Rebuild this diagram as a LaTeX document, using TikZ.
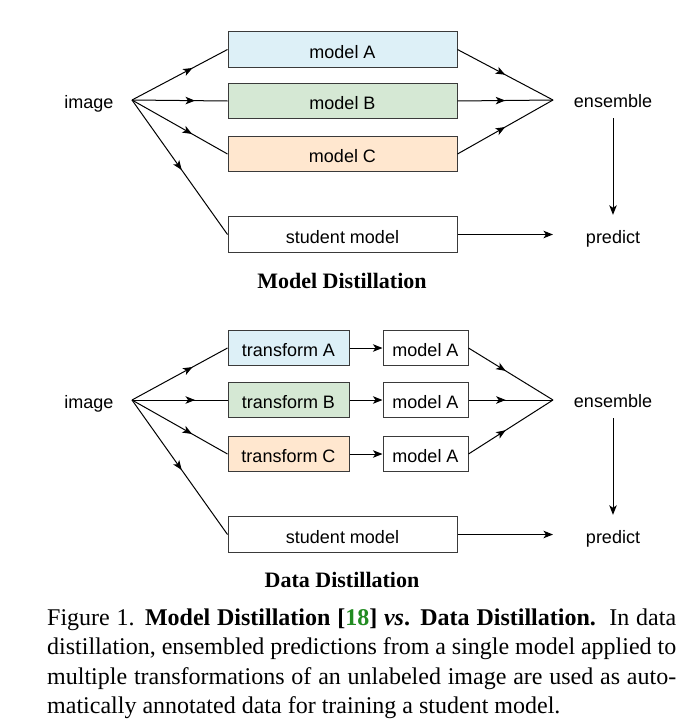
\documentclass[tikz,border=0pt]{standalone}
\usepackage{fontspec}
\setmainfont{Liberation Serif}
\newfontfamily\diagfont{Liberation Sans}
\usetikzlibrary{arrows.meta,decorations.markings}
\definecolor{boxA}{HTML}{DDF0F7}
\definecolor{boxB}{HTML}{D5E8D4}
\definecolor{boxC}{HTML}{FFE7CF}
\definecolor{boxline}{HTML}{3A3A3A}
\definecolor{citegreen}{HTML}{228B22}
\begin{document}
\begin{tikzpicture}[x=1pt,y=-1pt,
  lbl/.style={font=\diagfont\fontsize{18}{20}\selectfont, inner sep=0pt, text height=13pt, text depth=4pt},
  box/.style={draw=boxline, line width=1pt, minimum height=35.5pt, inner sep=0pt,
              font=\diagfont\fontsize{18}{20}\selectfont, text height=17.5pt, text depth=0.5pt},
  conn/.style={line width=1pt},
  tipend/.style={-{Stealth[length=9.5pt,width=7.5pt,inset=2.5pt]}},
  mid/.style={postaction={decorate}, decoration={markings,
     mark=at position #1 with {\arrow{Stealth[length=9.5pt,width=7.5pt,inset=2.5pt]}}}},
  ttl/.style={font=\bfseries\fontsize{22}{26}\selectfont, inner sep=0pt}]
\useasboundingbox (0,0) rectangle (696,728);

% ---------- Model Distillation ----------
\node[lbl] (img1) at (89,103.5) {image};
\coordinate (src1) at (132,100);
\node[box, fill=boxA, minimum width=229pt] (mA) at (342.5,49.5) {model A};
\node[box, fill=boxB, minimum width=229pt] (mB) at (342.5,101) {model B};
\node[box, fill=boxC, minimum width=229pt] (mC) at (342.5,154) {model C};
\node[box, fill=white, minimum width=229pt] (stu1) at (342.5,234.5) {student model};
\coordinate (ens1pt) at (553,100);
\node[lbl] (ens1) at (613,103) {ensemble};
\node[lbl] (pred1) at (613,239) {predict};
\coordinate (pred1pt) at (553,234.5);

\draw[conn, mid=0.635] (src1) -- (mA.west);
\draw[conn, mid=0.66] (src1) -- (mB.west);
\draw[conn, mid=0.63] (src1) -- (mC.west);
\draw[conn, mid=0.52] (src1) -- (stu1.west);
\draw[conn, mid=0.5] (mA.east) -- (ens1pt);
\draw[conn, mid=0.5] (mB.east) -- (ens1pt);
\draw[conn, mid=0.5] (mC.east) -- (ens1pt);
\draw[conn, tipend, shorten <=6.5pt, shorten >=15.5pt] (ens1) -- (pred1);
\draw[conn, tipend] (stu1.east) -- (pred1pt);
\node[ttl] (t1) at (342,281) {Model Distillation};

% ---------- Data Distillation ----------
\node[lbl] (img2) at (89,403.5) {image};
\coordinate (src2) at (132,400);
\node[box, fill=boxA, minimum width=121pt] (tA) at (288.5,348) {transform A};
\node[box, fill=boxB, minimum width=121pt] (tB) at (288.5,400) {transform B};
\node[box, fill=boxC, minimum width=121pt] (tC) at (288.5,454) {transform C};
\node[box, fill=white, minimum width=85pt] (mA2) at (425.5,348) {model A};
\node[box, fill=white, minimum width=85pt] (mB2) at (425.5,400) {model A};
\node[box, fill=white, minimum width=85pt] (mC2) at (425.5,454) {model A};
\node[box, fill=white, minimum width=229pt] (stu2) at (342.5,534.5) {student model};
\coordinate (ens2pt) at (553,400);
\node[lbl] (ens2) at (613,403) {ensemble};
\node[lbl] (pred2) at (613,539) {predict};
\coordinate (pred2pt) at (553,534.5);

\draw[conn, mid=0.635] (src2) -- (tA.west);
\draw[conn, mid=0.66] (src2) -- (tB.west);
\draw[conn, mid=0.63] (src2) -- (tC.west);
\draw[conn, mid=0.52] (src2) -- (stu2.west);
\draw[conn, tipend] (tA) -- (mA2);
\draw[conn, tipend] (tB) -- (mB2);
\draw[conn, tipend] (tC) -- (mC2);
\draw[conn, mid=0.44] (mA2.east) -- (ens2pt);
\draw[conn, mid=0.44] (mB2.east) -- (ens2pt);
\draw[conn, mid=0.44] (mC2.east) -- (ens2pt);
\draw[conn, tipend, shorten <=6.5pt, shorten >=15.5pt] (ens2) -- (pred2);
\draw[conn, tipend] (stu2.east) -- (pred2pt);
\node[ttl] (t2) at (342,580) {Data Distillation};

% ---------- Caption ----------
\node[anchor=base west, inner sep=0pt] (cap) at (47,625) {\parbox[t]{629pt}{\fontsize{24}{29.6}\selectfont
\makebox[629pt][s]{Figure 1. \textbf{Model Distillation [{\color{citegreen}18}] \textit{vs}. Data Distillation.}\ \ In data}\\
\makebox[629pt][s]{distillation, ensembled predictions from a single model applied to}\\
\makebox[629pt][s]{multiple transformations of an unlabeled image are used as auto-}\\
\mbox{matically annotated data for training a student model.}}};
\end{tikzpicture}
\end{document}
